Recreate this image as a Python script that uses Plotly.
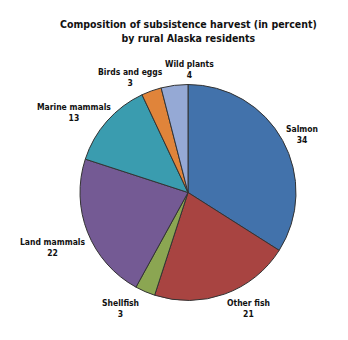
import plotly.graph_objects as go

categories = ["Salmon", "Other fish", "Shellfish", "Land mammals", "Marine mammals", "Birds and eggs", "Wild plants"]
values = [34, 21, 3, 22, 13, 3, 4]
colors = ["#4272AB", "#A84441", "#8BA652", "#745A94", "#3A9CAF", "#E0843A", "#95A9D5"]
# label centre positions (pixels) for each category
label_pos = [(302, 135), (248, 308.5), (120, 308.5), (52.5, 247), (73.5, 113), (130.5, 78), (189.5, 70)]

W, H = 348, 340
FONT = "Liberation Sans Narrow, DejaVu Sans Condensed, Arial Narrow, sans-serif"

fig = go.Figure(go.Pie(
    labels=categories, values=values, sort=False, direction="clockwise", rotation=0,
    marker=dict(colors=colors, line=dict(color="#333333", width=1)),
    textinfo="none", hoverinfo="label+value", showlegend=False,
    domain=dict(x=[80 / W, 296 / W], y=[1 - 301 / H, 1 - 84 / H]),
))

for cat, val, (px, py) in zip(categories, values, label_pos):
    fig.add_annotation(x=px / W, y=1 - py / H, xref="paper", yref="paper",
                       xanchor="center", yanchor="middle",
                       text=f"<b>{cat}</b><br><b>{val}</b>", showarrow=False,
                       font=dict(family=FONT, size=8.5, color="#111111"), align="center")

fig.add_annotation(x=188 / W, y=1 - 31 / H, xref="paper", yref="paper",
                   xanchor="center", yanchor="middle",
                   text="<b>Composition of subsistence harvest (in percent)</b><br><b>by rural Alaska residents</b>",
                   showarrow=False, font=dict(family=FONT, size=10.5, color="#111111"), align="center")

fig.update_layout(width=W, height=H, margin=dict(l=0, r=0, t=0, b=0),
                  paper_bgcolor="white", plot_bgcolor="white")
fig.write_html("out.html")
